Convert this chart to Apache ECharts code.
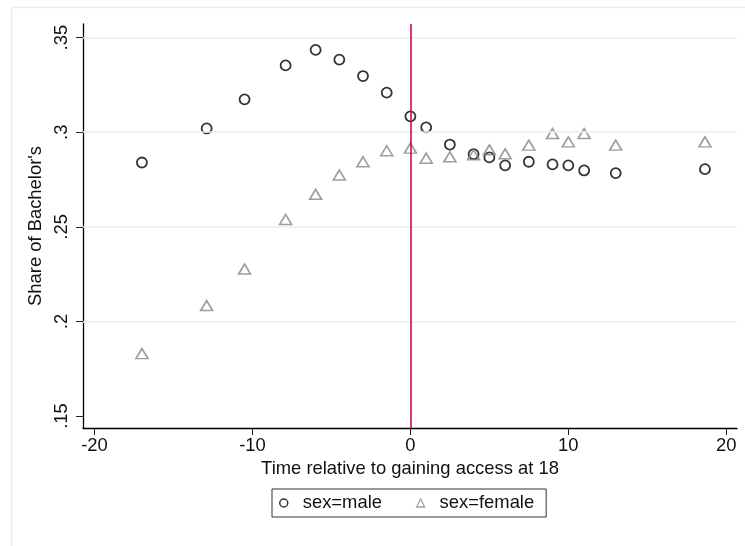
<!DOCTYPE html>
<html>
<head>
<meta charset="utf-8">
<script src="https://cdn.jsdelivr.net/npm/echarts@6/dist/echarts.min.js"></script>
<style>
html,body{margin:0;padding:0;background:#fff;}
#chart{width:745px;height:546px;}
</style>
</head>
<body>
<div id="chart"></div>
<script>
// ---- data ----
const timeX = [-17, -12.9, -10.5, -7.9, -6, -4.5, -3, -1.5, 0, 1, 2.5, 4, 5, 6, 7.5, 9, 10, 11, 13, 18.65];
const maleShare = [0.284, 0.302, 0.3174, 0.3353, 0.3435, 0.3384, 0.3297, 0.3209, 0.3084, 0.3026, 0.2935, 0.2884, 0.2867, 0.2825, 0.2844, 0.283, 0.2825, 0.2798, 0.2784, 0.2805];
const femaleShare = [0.183, 0.2084, 0.2277, 0.2539, 0.2672, 0.2774, 0.2844, 0.2902, 0.2916, 0.2863, 0.287, 0.2881, 0.2907, 0.2886, 0.2932, 0.2993, 0.2949, 0.2993, 0.2932, 0.2949];
const seriesNames = ['sex=male', 'sex=female'];
const xTickValues = [-20, -10, 0, 10, 20];
const xTickLabels = ['-20', '-10', '0', '10', '20'];
const yTickValues = [0.15, 0.2, 0.25, 0.3, 0.35];
const yTickLabels = ['.15', '.2', '.25', '.3', '.35'];
const yGridValues = [0.2, 0.25, 0.3, 0.35];
const eventLineX = 0;
const xTitle = 'Time relative to gaining access at 18';
const yTitle = "Share of Bachelor's";

const FONT = "'Liberation Sans', Arial, sans-serif";
const FS = 18.4;

const pairs = (xs, ys) => xs.map((x, i) => [x, ys[i]]);

const chart = echarts.init(document.getElementById('chart'), null, {renderer: 'canvas'});
chart.setOption({
  animation: false,
  backgroundColor: '#fff',
  textStyle: {fontFamily: FONT},
  graphic: [{
    type: 'rect', left: 9, top: 5, silent: true, z: -10,
    shape: {width: 800, height: 600},
    style: {fill: 'none', stroke: '#e4edf0', lineWidth: 1.5}
  }],
  grid: {left: 83, right: 8, top: 24, bottom: 118, containLabel: false},
  xAxis: {
    type: 'value', min: -20.73, max: 20.68,
    name: xTitle, nameLocation: 'middle', nameGap: 32,
    nameTextStyle: {fontFamily: FONT, fontSize: FS, color: '#111'},
    axisLine: {show: true, onZero: false, lineStyle: {color: '#000', width: 1.3}},
    axisTick: {show: true, inside: false, length: 7, customValues: xTickValues, lineStyle: {color: '#222', width: 1}},
    axisLabel: {show: true, margin: 9, customValues: xTickValues, fontFamily: FONT, fontSize: FS, color: '#111',
      formatter: v => { const i = xTickValues.indexOf(v); return i >= 0 ? xTickLabels[i] : ''; }},
    splitLine: {show: false}
  },
  yAxis: {
    type: 'value', min: 0.1437, max: 0.3572,
    name: yTitle, nameLocation: 'middle', nameGap: 34, nameRotate: 90,
    nameTextStyle: {fontFamily: FONT, fontSize: FS, color: '#111'},
    axisLine: {show: true, onZero: false, lineStyle: {color: '#000', width: 1.3}},
    axisTick: {show: true, inside: false, length: 7, customValues: yTickValues, lineStyle: {color: '#222', width: 1}},
    axisLabel: {show: true, margin: 12, rotate: 90, customValues: yTickValues, fontFamily: FONT, fontSize: FS, color: '#111',
      formatter: v => { const i = yTickValues.findIndex(t => Math.abs(t - v) < 1e-9); return i >= 0 ? yTickLabels[i] : ''; }},
    splitLine: {show: false}
  },
  legend: {
    left: 272, top: 489,
    orient: 'horizontal',
    itemWidth: 8, itemHeight: 8, itemGap: 34,
    padding: [4, 12, 4, 7],
    borderColor: '#333', borderWidth: 1,
    backgroundColor: '#fff',
    textStyle: {fontFamily: FONT, fontSize: FS, color: '#111', lineHeight: 20, padding: [0, 0, 0, 10]},
    data: [
      {name: seriesNames[0], icon: 'circle', itemStyle: {color: 'transparent', borderColor: '#000', borderWidth: 1.5}},
      {name: seriesNames[1], icon: 'triangle', itemStyle: {color: 'transparent', borderColor: '#8a8a8a', borderWidth: 1.3}}
    ]
  },
  series: [
    {
      name: '_grid', type: 'line', data: [], silent: true, z: 1,
      markLine: {
        silent: true, symbol: ['none', 'none'], animation: false,
        label: {show: false},
        lineStyle: {color: '#e8f0f2', width: 1.6, type: 'solid'},
        data: yGridValues.map(v => ({yAxis: v}))
      }
    },
    {
      name: seriesNames[0], type: 'scatter', z: 3,
      symbol: 'circle', symbolSize: 10,
      itemStyle: {color: 'transparent', borderColor: '#000', borderWidth: 1.8},
      data: pairs(timeX, maleShare)
    },
    {
      name: seriesNames[1], type: 'scatter', z: 3,
      symbol: 'triangle', symbolSize: [12, 10],
      itemStyle: {color: 'transparent', borderColor: '#858585', borderWidth: 1.6},
      data: pairs(timeX, femaleShare),
      markLine: {
        silent: true, symbol: ['none', 'none'], animation: false,
        label: {show: false},
        lineStyle: {color: '#cc1036', width: 1.6, type: 'solid'},
        data: [{xAxis: eventLineX}]
      }
    }
  ]
});
</script>
</body>
</html>
